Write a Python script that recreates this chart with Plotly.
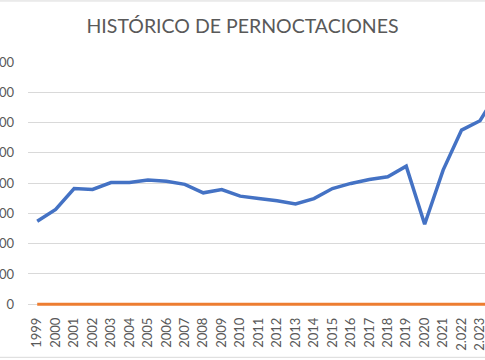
import plotly.graph_objects as go

years = ["1999", "2000", "2001", "2002", "2003", "2004", "2005", "2006", "2007",
         "2008", "2009", "2010", "2011", "2012", "2013", "2014", "2015", "2016",
         "2017", "2018", "2019", "2020", "2021", "2.022", "2.023", "2.024"]
pernoctaciones = [1370000, 1565000, 1910000, 1895000, 2010000, 2010000, 2050000,
                  2030000, 1980000, 1840000, 1895000, 1785000, 1745000, 1710000,
                  1655000, 1745000, 1910000, 1995000, 2060000, 2105000, 2280000,
                  1320000, 2215000, 2875000, 3030000, 3530000]
serie_cero = [0] * len(years)
y_ticks = [0, 500000, 1000000, 1500000, 2000000, 2500000, 3000000, 3500000, 4000000]

H = 245.75   # plot height in px
B = 52.25    # bottom margin in px

fig = go.Figure()
fig.add_trace(go.Scatter(x=years, y=serie_cero, mode="lines",
                         line=dict(color="#ED7D31", width=3.2)))
fig.add_trace(go.Scatter(x=years, y=pernoctaciones, mode="lines",
                         line=dict(color="#4472C4", width=3.5)))

fig.update_layout(
    width=485, height=360,
    margin=dict(l=28, r=0, t=62, b=B, autoexpand=False),
    paper_bgcolor="white", plot_bgcolor="white",
    showlegend=False,
    separators=",.",
    title=dict(text="HISTÓRICO DE PERNOCTACIONES", x=0.5, xanchor="center",
               y=1 - 26/360, yanchor="middle", xref="container",
               font=dict(family="Lato", size=19.5, color="#595959")),
    font=dict(family="Lato", color="#595959"),
    xaxis=dict(type="category", range=[-0.5, 24.27], showgrid=False,
               showline=False, zeroline=False, tickangle=-90, ticks="",
               automargin=False,
               tickfont=dict(size=13, color="#595959"), ticklabelstandoff=6),
    yaxis=dict(range=[-62000, 4000000], tickvals=y_ticks, tickformat=",d",
               showgrid=True, gridcolor="#D9D9D9", gridwidth=1,
               zeroline=False, showline=False, ticks="", automargin=False,
               tickfont=dict(size=13, color="#595959"), ticklabelstandoff=13),
    shapes=[
        dict(type="line", xref="paper", yref="paper", x0=-0.1, x1=1.1,
             y0=(360 - B - 1) / H, y1=(360 - B - 1) / H,
             line=dict(color="#D9D9D9", width=1)),
        dict(type="line", xref="paper", yref="paper", x0=-0.1, x1=1.1,
             y0=(360 - B - 357) / H, y1=(360 - B - 357) / H,
             line=dict(color="#D9D9D9", width=1)),
    ],
)

fig.write_html("out.html",
               config={"displayModeBar": False},
               post_script="document.body.style.margin='0px';")
